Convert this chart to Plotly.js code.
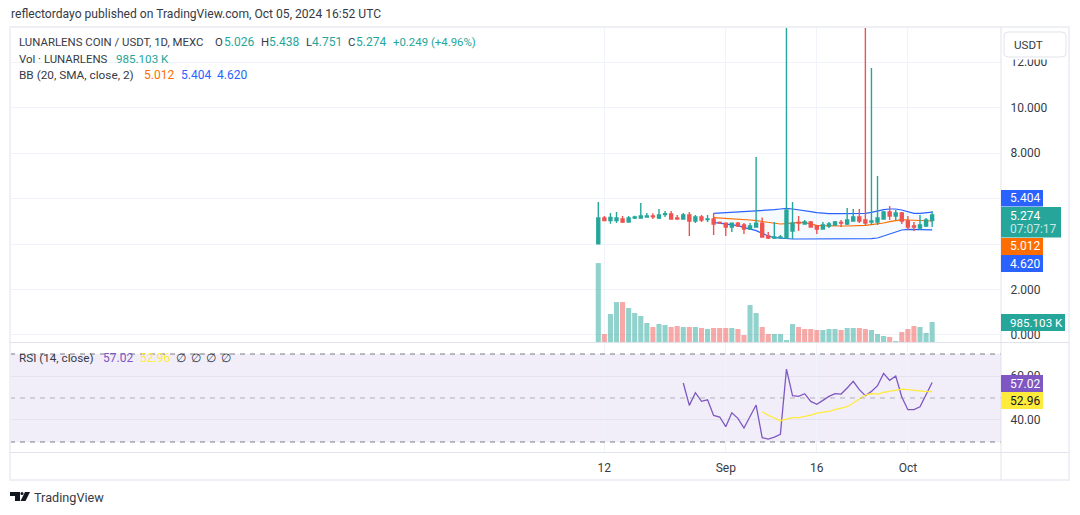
<!DOCTYPE html>
<html>
<head>
<meta charset="utf-8">
<script src="https://cdn.plot.ly/plotly-3.0.1.min.js"></script>
<style>html,body{margin:0;padding:0;background:#fff;}#chart{width:1080px;height:515px;}</style>
</head>
<body>
<div id="chart"></div>
<script>
var dates = ["2024-08-11","2024-08-12","2024-08-13","2024-08-14","2024-08-15","2024-08-16","2024-08-17","2024-08-18","2024-08-19","2024-08-20","2024-08-21","2024-08-22","2024-08-23","2024-08-24","2024-08-25","2024-08-26","2024-08-27","2024-08-28","2024-08-29","2024-08-30","2024-08-31","2024-09-01","2024-09-02","2024-09-03","2024-09-04","2024-09-05","2024-09-06","2024-09-07","2024-09-08","2024-09-09","2024-09-10","2024-09-11","2024-09-12","2024-09-13","2024-09-14","2024-09-15","2024-09-16","2024-09-17","2024-09-18","2024-09-19","2024-09-20","2024-09-21","2024-09-22","2024-09-23","2024-09-24","2024-09-25","2024-09-26","2024-09-27","2024-09-28","2024-09-29","2024-09-30","2024-10-01","2024-10-02","2024-10-03","2024-10-04","2024-10-05"];
var opens  = [4.014,5.143,5.026,5.03,5.099,4.967,5.143,5.143,5.187,5.23,5.143,5.30,5.32,5.14,5.10,5.275,5.01,5.187,5.07,5.10,4.95,4.92,4.747,4.92,4.835,4.66,4.747,4.92,4.35,4.26,4.28,4.26,4.57,4.95,4.88,4.967,4.79,4.66,4.79,4.835,4.95,4.88,5.01,5.187,5.055,4.967,4.967,5.10,5.41,5.23,5.363,5.01,4.79,4.70,4.79,5.026];
var highs  = [5.846,5.23,5.363,5.41,5.23,5.23,5.245,5.80,5.363,5.35,5.54,5.45,5.45,5.275,5.363,5.41,5.275,5.275,5.275,5.36,4.99,4.92,4.92,4.967,4.92,4.92,7.82,5.17,4.53,4.967,4.395,15.5,5.846,5.23,5.055,5.01,4.835,4.967,4.967,5.01,5.055,5.58,5.54,5.54,15.5,11.74,6.99,5.45,5.67,5.49,5.41,5.23,4.967,5.275,5.14,5.438];
var lows   = [4.014,5.02,4.894,4.92,4.92,4.967,5.10,5.143,5.187,5.10,5.10,5.187,5.10,5.10,5.10,4.35,4.92,4.967,4.967,4.395,4.89,4.35,4.53,4.747,4.44,4.615,4.747,4.31,4.22,4.22,4.22,4.22,4.22,4.57,4.88,4.747,4.44,4.66,4.70,4.835,4.747,4.835,5.01,4.92,4.835,4.835,4.835,5.10,5.055,5.055,4.88,4.615,4.57,4.615,4.747,4.751];
var closes = [5.143,5.026,5.172,5.143,4.967,5.143,5.187,5.23,5.23,5.20,5.275,5.33,5.10,5.10,5.275,5.01,5.187,5.055,5.10,4.88,4.92,4.747,4.92,4.79,4.66,4.79,4.92,4.31,4.26,4.31,4.31,5.49,4.92,4.92,4.967,4.747,4.66,4.835,4.88,4.967,4.92,5.055,5.187,5.01,4.92,5.01,5.143,5.41,5.23,5.363,5.01,4.747,4.747,4.835,5.055,5.274];
var volumesK = [3887,394,1378,1968,1968,1673,1427,1279,935,738,886,836,738,787,738,738,738,689,640,689,689,689,689,640,344,1820,1427,738,394,394,394,98,886,738,640,640,590,590,640,640,590,689,689,689,640,590,394,295,246,49,492,640,787,738,443,985.103];
var volumeUp = [1,0,1,1,0,1,1,1,1,0,1,1,0,0,1,0,1,0,1,0,0,0,1,0,0,1,1,0,0,1,1,1,1,0,0,0,0,1,1,1,0,1,1,0,0,1,1,1,0,1,0,0,0,1,1,1];
var bbDates = dates.slice(19);
var bbUpper = [5.348,5.362,5.377,5.392,5.406,5.421,5.436,5.450,5.480,5.494,5.509,5.538,5.568,5.538,5.509,5.465,5.421,5.377,5.348,5.333,5.333,5.333,5.348,5.348,5.348,5.348,5.392,5.465,5.509,5.538,5.538,5.494,5.406,5.348,5.348,5.377,5.404];
var bbBasis = [5.157,5.143,5.128,5.113,5.099,5.084,5.055,5.025,4.981,4.952,4.923,4.879,4.894,4.937,4.952,4.937,4.879,4.820,4.806,4.791,4.791,4.791,4.791,4.791,4.806,4.820,4.850,4.879,4.923,4.981,5.040,5.069,5.055,5.040,5.025,5.025,5.012];
var bbLower = [4.952,4.923,4.879,4.850,4.806,4.732,4.659,4.586,4.469,4.351,4.278,4.249,4.234,4.220,4.220,4.220,4.220,4.220,4.220,4.220,4.220,4.220,4.220,4.220,4.220,4.220,4.234,4.264,4.351,4.454,4.542,4.615,4.644,4.644,4.630,4.630,4.620];
var rsiDates = dates.slice(14);
var rsi = [56.8,46.65,52.4,48.47,49.2,42.1,41.35,36.95,43.3,40.74,36.35,41.65,46.8,31.95,31.35,32.26,33.47,63.16,51.04,50.74,51.95,48.47,47.1,48.92,50.74,51.95,51.8,54.53,57.56,53.77,51.04,53.0,55.6,61.2,58.0,60.0,50.44,44.68,44.68,46.04,51.5,57.02];
var rsiMaDates = dates.slice(27);
var rsiMa = [43.77,42.1,40.9,39.68,40.44,41.04,41.04,41.5,42.26,43.17,43.47,43.92,44.68,45.44,46.04,47.71,49.68,51.35,51.95,51.8,52.56,53.0,53.77,54.07,53.77,53.47,53.0,52.86,52.96];
var priceTicks = [0,2,4,6,8,10,12];
var priceTickLabels = ["0.000","2.000","","","8.000","10.000","12.000"];
var rsiTicks = [40,60];
var timeTickDates = ["2024-08-12","2024-09-01","2024-09-16","2024-10-01"];
var timeTickLabels = ["12","Sep","16","Oct"];

var UP='#26a69a', DOWN='#ef5350', BLUE='#2962ff', ORANGE='#ff6d00', PURPLE='#7e57c2', YELLOW='#ffeb3b', INK='#363a45', GRID='#f0f3fa', EDGE='#e0e3eb';
var FONT='Roboto, "Noto Sans", sans-serif';
var TS=12, CAPS=11.4;
function X(p){return p/1080;}
function Y(p){return 1-p/515;}
var xRange=['2024-05-06 02:00','2024-10-16 08:14'];
var priceRange=[-0.308,13.54];

var traces=[
 {type:'scatter',mode:'lines',x:bbDates,y:bbUpper,yaxis:'y',xaxis:'x',line:{color:BLUE,width:1.2},hoverinfo:'skip',showlegend:false},
 {type:'scatter',mode:'lines',x:bbDates,y:bbLower,yaxis:'y',xaxis:'x',line:{color:BLUE,width:1.2},fill:'tonexty',fillcolor:'rgba(33,150,243,0.05)',hoverinfo:'skip',showlegend:false},
 {type:'scatter',mode:'lines',x:bbDates,y:bbBasis,yaxis:'y',xaxis:'x',line:{color:ORANGE,width:1.2},hoverinfo:'skip',showlegend:false},
 {type:'bar',x:dates,y:volumesK,yaxis:'y3',xaxis:'x',marker:{color:volumeUp.map(function(u){return u?'rgba(38,166,154,0.5)':'rgba(239,83,80,0.5)';}),line:{width:0}},hoverinfo:'skip',showlegend:false},
 {type:'candlestick',x:dates,open:opens,high:highs,low:lows,close:closes,yaxis:'y2',xaxis:'x',
  increasing:{line:{color:UP,width:1.4},fillcolor:UP},decreasing:{line:{color:DOWN,width:1.4},fillcolor:DOWN},hoverinfo:'skip',showlegend:false},
 {type:'scatter',mode:'lines',x:rsiDates,y:rsi,yaxis:'y4',xaxis:'x',line:{color:PURPLE,width:1.3},hoverinfo:'skip',showlegend:false},
 {type:'scatter',mode:'lines',x:rsiMaDates,y:rsiMa,yaxis:'y4',xaxis:'x',line:{color:YELLOW,width:1.3},hoverinfo:'skip',showlegend:false}
];

var annotations=[];
function label(text,x,y,color,size,anchor){
 annotations.push({xref:'paper',yref:'paper',x:X(x),y:Y(y),text:text,showarrow:false,xanchor:anchor||'left',yanchor:'middle',borderpad:0,
  font:{family:FONT,size:size||TS,color:color||INK}});
}
label('reflectordayo published on TradingView.com, Oct 05, 2024 16:52 UTC',10,14.5,INK,12.1);
label('LUNARLENS COIN / USDT, 1D, MEXC',18,42,INK,CAPS);
label('O',214,42,INK,CAPS);label('5.026',223,42,UP);
label('H',260,42,INK,CAPS);label('5.438',268,42,UP);
label('L',304.5,42,INK,CAPS);label('4.751',310.5,42,UP);
label('C',347,42,INK,CAPS);label('5.274',355,42,UP);
label('+0.249 (+4.96%)',392,42,UP,CAPS);
label('Vol · LUNARLENS',18,59,INK,CAPS);label('985.103 K',115,59,UP,11.6);
label('BB (20, SMA, close, 2)',18,75.5,INK,11.8);
label('5.012',143,75.5,ORANGE);label('5.404',180,75.5,BLUE);label('4.620',216,75.5,BLUE);
label('RSI (14, close)',18,358,INK,11.7);
label('57.02',102,358,PURPLE);label('52.96',139,358,YELLOW);
label('∅',175,358);label('∅',190,358);label('∅',205,358);label('∅',220,358);
label('USDT',1013,45,INK,11.6);
label('5.404',1009,198,'#fff');
label('5.274',1009,215.5,'#fff');label('07:07:17',1009,229,'rgba(255,255,255,0.75)');
label('5.012',1009,246.5,'#fff');
label('4.620',1009,263.5,'#fff');
label('985.103 K',1009,322.5,'#fff',11.6);
label('57.02',1009,383.5,'#fff');
label('52.96',1009,400.5,'#131722');
label('TradingView',33,497,INK,12.7);

function rectPx(x0,y0,x1,y1,fill,line,w,layer){
 return {type:'rect',xref:'paper',yref:'paper',x0:X(x0),x1:X(x1),y0:Y(y0),y1:Y(y1),fillcolor:fill||'rgba(0,0,0,0)',line:{color:line||'rgba(0,0,0,0)',width:w||0},layer:layer||'above'};
}
function linePx(x0,y0,x1,y1,color,w){
 return {type:'line',xref:'paper',yref:'paper',x0:X(x0),x1:X(x1),y0:Y(y0),y1:Y(y1),line:{color:color,width:w||1},layer:'above'};
}
function polyPx(pts,fill){
 var d=pts.map(function(p,i){return (i?'L':'M')+X(p[0]).toFixed(5)+','+Y(p[1]).toFixed(5);}).join(' ')+' Z';
 return {type:'path',xref:'paper',yref:'paper',path:d,fillcolor:fill,line:{width:0},layer:'above'};
}
function roundedPx(x0,y0,x1,y1,r){
 var ax=X(x0),bx=X(x1),ay=Y(y0),by=Y(y1),rx=r/1080,ry=r/515;
 var d='M'+(ax+rx)+','+ay+' L'+(bx-rx)+','+ay+' Q'+bx+','+ay+' '+bx+','+(ay-ry)+' L'+bx+','+(by+ry)+' Q'+bx+','+by+' '+(bx-rx)+','+by+
       ' L'+(ax+rx)+','+by+' Q'+ax+','+by+' '+ax+','+(by+ry)+' L'+ax+','+(ay-ry)+' Q'+ax+','+ay+' '+(ax+rx)+','+ay+' Z';
 return {type:'path',xref:'paper',yref:'paper',path:d,fillcolor:'#fff',line:{color:EDGE,width:1},layer:'above'};
}
function rsiLevel(v,color){
 return {type:'line',xref:'paper',yref:'y4',x0:X(10),x1:X(1001),y0:v,y1:v,line:{color:color,width:1,dash:'5px,5px'},layer:'above'};
}
var shapes=[
 {type:'rect',xref:'paper',yref:'y4',x0:X(10),x1:X(1001),y0:30,y1:70,fillcolor:'rgba(126,87,194,0.1)',line:{width:0},layer:'below'},
 rsiLevel(70,'#787b86'),rsiLevel(50,'rgba(120,123,134,0.55)'),rsiLevel(30,'#787b86'),
 rectPx(10,27,1069,480,null,'#eef0f5',2),
 linePx(10,342.5,1069,342.5,EDGE,1),
 linePx(10,452.5,1069,452.5,EDGE,1),
 linePx(1001,27,1001,480,EDGE,1),
 rectPx(1003,29,1067,59.5,'#fff'),
 roundedPx(1004,32,1066,57,4),
 rectPx(1001,190,1043,206.5,BLUE),
 rectPx(1001,207,1061,237.5,UP),
 rectPx(1001,238,1043,255,ORANGE),
 rectPx(1001,255,1043,272,BLUE),
 rectPx(1001,314,1065,331,UP),
 rectPx(1001,375,1043,392,PURPLE),
 rectPx(1001,392,1043,409,YELLOW),
 polyPx([[10,492],[20,492],[20,501],[15,501],[15,496],[10,496]],'#131722'),
 polyPx([[25,492],[30,492],[25.5,501],[20.5,501]],'#131722'),
 {type:'circle',xref:'paper',yref:'paper',x0:X(20.5),x1:X(23.5),y0:Y(495),y1:Y(492),fillcolor:'#131722',line:{width:0},layer:'above'}
];

var layout={
 width:1080,height:515,margin:{l:0,r:0,t:0,b:0},paper_bgcolor:'#fff',plot_bgcolor:'#fff',showlegend:false,bargap:0.16,boxgap:0.3,
 font:{family:FONT,size:TS,color:INK},
 xaxis:{type:'date',domain:[X(10),X(1001)],range:xRange,anchor:'y4',rangeslider:{visible:false},tickmode:'array',tickvals:timeTickDates,ticktext:timeTickLabels,
  showgrid:true,gridcolor:GRID,gridwidth:1,zeroline:false,showline:false,ticks:'outside',ticklen:5,tickcolor:'rgba(0,0,0,0)',tickfont:{family:FONT,size:TS,color:INK}},
 yaxis:{domain:[Y(342),Y(27)],range:priceRange,side:'right',anchor:'x',tickmode:'array',tickvals:priceTicks,ticktext:priceTickLabels,showgrid:true,gridcolor:GRID,zeroline:false,showline:false,
  ticks:'outside',ticklen:6,tickcolor:'rgba(0,0,0,0)',tickfont:{family:FONT,size:TS,color:INK}},
 yaxis2:{overlaying:'y',range:priceRange,side:'right',anchor:'x',visible:false,showgrid:false},
 yaxis3:{overlaying:'y',range:[0,15514],side:'right',anchor:'x',visible:false,showgrid:false},
 yaxis4:{domain:[Y(452),Y(343)],range:[25.45,75],side:'right',anchor:'x',tickmode:'array',tickvals:rsiTicks,tickformat:'.2f',showgrid:true,gridcolor:'#e6e3f0',zeroline:false,showline:false,
  ticks:'outside',ticklen:6,tickcolor:'rgba(0,0,0,0)',tickfont:{family:FONT,size:TS,color:INK}},
 annotations:annotations,shapes:shapes
};
Plotly.newPlot('chart',traces,layout,{staticPlot:true,displayModeBar:false});
</script>
</body>
</html>
